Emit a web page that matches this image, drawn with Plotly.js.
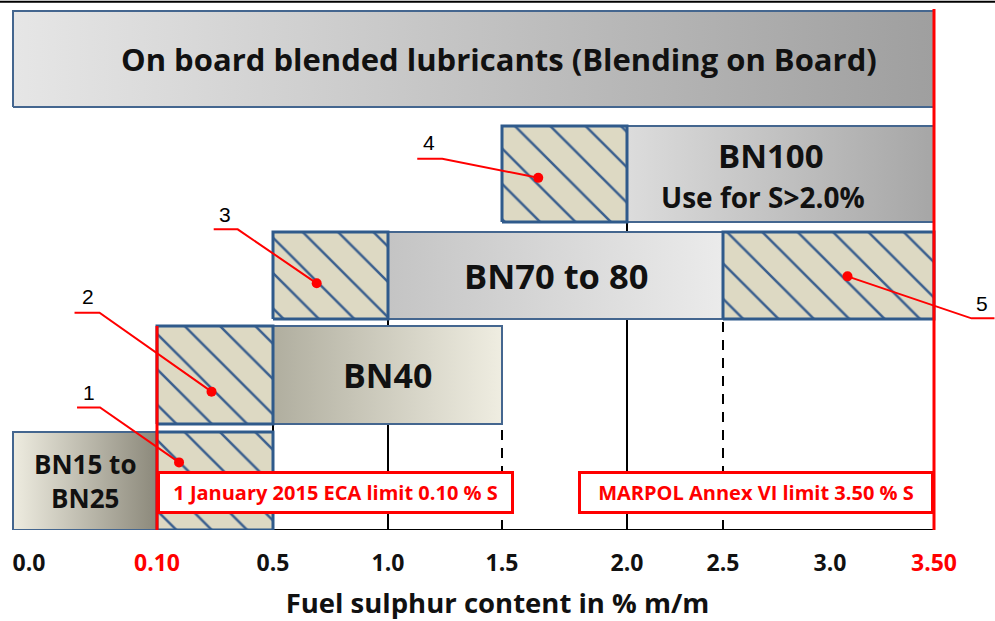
<!DOCTYPE html>
<html><head><meta charset="utf-8">
<script src="https://cdn.plot.ly/plotly-3.0.1.min.js"></script>
<style>html,body{margin:0;padding:0;background:#fff}#chart{width:995px;height:621px}</style>
</head><body><div id="chart"></div>
<script>
// ---------------- data ----------------
const tickValues = [0.0, 0.10, 0.5, 1.0, 1.5, 2.0, 2.5, 3.0, 3.5];
const tickLabels = ['0.0', '0.10', '0.5', '1.0', '1.5', '2.0', '2.5', '3.0', '3.50'];
const tickIsLimit = [false, true, false, false, false, false, false, false, true];

const products = ['On board blended lubricants (Blending on Board)', 'BN100', 'BN70 to 80', 'BN40', 'BN15 to<br>BN25'];
const productFrom = [0.0, 2.0, 1.0, 0.5, 0.0];
const productTo = [3.5, 3.5, 2.5, 1.5, 0.10];
const productNote = ['', 'Use for S>2.0%', '', '', ''];

const overlapIds = ['1', '2', '3', '4', '5'];
const overlapRow = [4, 3, 2, 1, 2];          // index into products
const overlapFrom = [0.10, 0.10, 0.5, 1.5, 2.5];
const overlapTo = [0.5, 0.5, 1.0, 2.0, 3.5];

const limitValues = [0.10, 3.50];
const limitLabels = ['1 January 2015 ECA limit 0.10 % S', 'MARPOL Annex VI limit 3.50 % S'];

// ---------------- scale / layout config ----------------
// hand-drawn axis: axis position of each tick (non-uniform spacing as in the original)
const axisStops = [0, 1.44, 2.60, 3.75, 4.89, 6.14, 7.10, 8.17, 9.21];
function sx(v) {
  const n = tickValues.length;
  for (let i = 0; i < n - 1; i++) {
    const a = tickValues[i], b = tickValues[i + 1];
    if (v <= b || i === n - 2) return axisStops[i] + (v - a) / (b - a) * (axisStops[i + 1] - axisStops[i]);
  }
}
// vertical band of each product row (axis units, bottom = 0)
const rowBand = [[4.23, 5.19], [3.08, 4.04], [2.11, 2.98], [1.06, 2.04], [0.0, 0.98]];
const rowGrad = [['#e6e6e6', '#9f9f9f'], ['#dcdcdc', '#a6a6a6'], ['#c4c4c4', '#ebebeb'], ['#b0ae9f', '#efede1'], ['#eeece0', '#8c897b']];
const rowFont = [31, 33, 34.5, 34, 26];
const rowTextShift = [25, -10, 0, 0, 0];
const noteFont = 28;
const calloutDot = [[0.19, 0.69], [0.47, 0.33], [0.38, 0.41], [0.29, 0.46], [0.59, 0.49]]; // fraction within hatch box
const calloutPath = ['M-102,55 L-79,55 L0,0', 'M-137,79 L-112,79 L0,0', 'M-103,54 L-79,54 L0,0', 'M-121,19 L-96,19 L0,0', 'M0,0 L124,-42 L147,-42'];
const calloutText = [[-90, 70], [-124, 95], [-92, 69], [-109, 35], [135, -27]];
const tickLabelShift = [0.16, 0, 0, 0, 0, 0, 0, 0, 0];

const BORDER = '#44668f';
const HATCHBORDER = '#2f5a8b';
const RED = '#ff0000';
const FONT = '"Open Sans", Lato, sans-serif';

const traces = [];
const annotations = [];
const shapes = [];

// product boxes with gradients
products.forEach((name, i) => {
  const x0 = sx(productFrom[i]), x1 = sx(productTo[i]);
  const [y0, y1] = rowBand[i];
  traces.push({
    type: 'scatter', mode: 'lines', hoverinfo: 'skip',
    x: [x0, x1, x1, x0, x0], y: [y0, y0, y1, y1, y0],
    fill: 'toself',
    fillgradient: { type: 'horizontal', colorscale: [[0, rowGrad[i][0]], [1, rowGrad[i][1]]] },
    line: { color: BORDER, width: 2 }
  });
  const cx = (x0 + x1) / 2;
  const cy = (y0 + y1) / 2;
  if (productNote[i]) {
    annotations.push({ x: cx, y: cy, xref: 'x', yref: 'y', showarrow: false, text: name, xshift: rowTextShift[i], yshift: 19,
      font: { family: FONT, size: rowFont[i], color: '#111', weight: 700 } });
    annotations.push({ x: cx, y: cy, xref: 'x', yref: 'y', showarrow: false, text: productNote[i], xshift: -18, yshift: -23,
      font: { family: FONT, size: noteFont, color: '#111', weight: 700 } });
  } else {
    annotations.push({ x: cx, y: cy, xref: 'x', yref: 'y', showarrow: false, text: name, xshift: rowTextShift[i],
      font: { family: FONT, size: rowFont[i], color: '#111', weight: 700 } });
  }
});

// hatched overlap zones
const dotX = [], dotY = [];
overlapIds.forEach((id, k) => {
  const x0 = sx(overlapFrom[k]), x1 = sx(overlapTo[k]);
  const [y0, y1] = rowBand[overlapRow[k]];
  traces.push({
    type: 'scatter', mode: 'lines', hoverinfo: 'skip',
    x: [x0, x1, x1, x0, x0], y: [y0, y0, y1, y1, y0],
    fill: 'toself', fillcolor: '#ddd9c3',
    fillpattern: { shape: '\\', bgcolor: '#ddd9c3', fgcolor: '#3a5f8e', size: 25, solidity: 0.1 },
    line: { color: HATCHBORDER, width: 3 }
  });
  const dx = x0 + calloutDot[k][0] * (x1 - x0);
  const dy = y0 + calloutDot[k][1] * (y1 - y0);
  dotX.push(dx); dotY.push(dy);
  shapes.push({ type: 'path', xref: 'x', yref: 'y', xsizemode: 'pixel', ysizemode: 'pixel',
    xanchor: dx, yanchor: dy, path: calloutPath[k], line: { color: RED, width: 2 }, layer: 'above' });
  annotations.push({ x: dx, y: dy, xref: 'x', yref: 'y', showarrow: false, text: id,
    xshift: calloutText[k][0], yshift: calloutText[k][1],
    font: { family: '"Liberation Sans", Arial, sans-serif', size: 21, color: '#000' } });
});
traces.push({ type: 'scatter', mode: 'markers', hoverinfo: 'skip', x: dotX, y: dotY,
  marker: { color: RED, size: 10 } });

// vertical reference lines (below boxes)
const vlines = [
  { v: 0.5, top: rowBand[3][0], dash: 'solid', bot: -0.05 },
  { v: 1.0, top: rowBand[2][0], dash: 'solid', bot: -0.07 },
  { v: 1.5, top: rowBand[3][0], dash: '10px,8px', bot: 0 },
  { v: 2.0, top: rowBand[1][0], dash: 'solid', bot: -0.07 },
  { v: 2.5, top: rowBand[2][0], dash: '10px,8px', bot: 0 }
];
vlines.forEach(l => shapes.push({ type: 'line', xref: 'x', yref: 'y', x0: sx(l.v), x1: sx(l.v), y0: l.bot, y1: l.top,
  line: { color: '#000', width: 2, dash: l.dash }, layer: 'below' }));
// axis baseline
shapes.push({ type: 'line', xref: 'x', yref: 'y', x0: sx(0), x1: sx(3.5), y0: 0, y1: 0, line: { color: '#000', width: 2 }, layer: 'below' });
// top rule
shapes.push({ type: 'line', xref: 'paper', yref: 'paper', x0: 0, x1: 1, y0: 0.9965, y1: 0.9965, line: { color: '#000', width: 2 } });

// limit lines + boxes
shapes.push({ type: 'line', xref: 'x', yref: 'y', x0: sx(limitValues[0]), x1: sx(limitValues[0]), y0: 0, y1: rowBand[3][1],
  line: { color: RED, width: 3 }, layer: 'above' });
shapes.push({ type: 'line', xref: 'x', yref: 'y', x0: sx(limitValues[1]), x1: sx(limitValues[1]), y0: 0, y1: 5.21,
  line: { color: RED, width: 3 }, layer: 'above' });
annotations.push({ x: sx(limitValues[0]), y: 0.38, xref: 'x', yref: 'y', xanchor: 'left', showarrow: false,
  text: limitLabels[0], width: 349, height: 35, bgcolor: '#fff', bordercolor: RED, borderwidth: 3, borderpad: 1,
  font: { family: FONT, size: 20, color: RED, weight: 700 } });
annotations.push({ x: sx(limitValues[1]), y: 0.38, xref: 'x', yref: 'y', xanchor: 'right', showarrow: false,
  text: limitLabels[1], width: 348, height: 35, bgcolor: '#fff', bordercolor: RED, borderwidth: 3, borderpad: 1,
  font: { family: FONT, size: 20, color: RED, weight: 700 } });

const layout = {
  width: 995, height: 621,
  margin: { l: 0, r: 0, t: 0, b: 91 },
  paper_bgcolor: '#fff', plot_bgcolor: 'rgba(0,0,0,0)',
  showlegend: false,
  xaxis: {
    range: [-0.13, 9.82], showgrid: false, zeroline: false, showline: false, ticks: '',
    tickvals: tickValues.map((v, i) => sx(v) + tickLabelShift[i]),
    ticktext: tickLabels.map((t, i) => tickIsLimit[i] ? '<span style="color:#ff0000">' + t + '</span>' : t),
    tickfont: { family: FONT, size: 23, color: '#111', weight: 700 },
    ticklabelstandoff: 17,
    title: { text: 'Fuel sulphur content in % m/m', standoff: 16,
      font: { family: FONT, size: 27.5, color: '#111', weight: 700 } },
    fixedrange: true
  },
  yaxis: { range: [0, 5.30], visible: false, fixedrange: true },
  shapes: shapes,
  annotations: annotations
};

Plotly.newPlot('chart', traces, layout, { displayModeBar: false, staticPlot: true });
</script>
</body></html>
